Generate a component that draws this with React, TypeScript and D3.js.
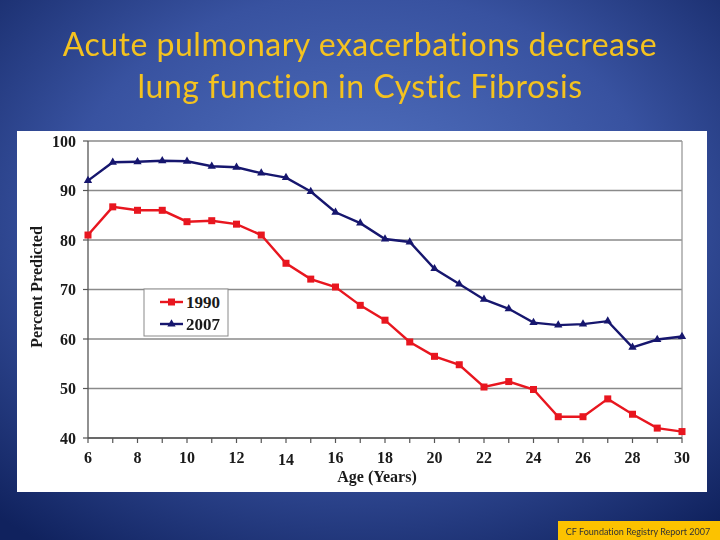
import React from "react";
import * as d3 from "d3";

const ages = [6, 7, 8, 9, 10, 11, 12, 13, 14, 15, 16, 17, 18, 19, 20, 21, 22, 23, 24, 25, 26, 27, 28, 29, 30];
const values1990 = [81, 86.7, 86, 86, 83.7, 83.9, 83.2, 81, 75.3, 72.1, 70.5, 66.8, 63.8, 59.4, 56.5, 54.8, 50.3, 51.4, 49.8, 44.3, 44.3, 47.9, 44.8, 42.0, 41.3];
const values2007 = [92, 95.7, 95.8, 96.0, 95.9, 94.9, 94.7, 93.5, 92.6, 89.8, 85.6, 83.4, 80.2, 79.6, 74.2, 71.1, 68.0, 66.1, 63.3, 62.8, 63.0, 63.6, 58.3, 59.9, 60.5];
const seriesNames = ["1990", "2007"];
const yTicks = [40, 50, 60, 70, 80, 90, 100];
const xTickLabels = [6, 8, 10, 12, 14, 16, 18, 20, 22, 24, 26, 28, 30];
const titleLines = ["Acute pulmonary exacerbations decrease", "lung function in Cystic Fibrosis"];
const footerText = "CF Foundation Registry Report 2007";

const RED = "#e8161f";
const BLUE = "#16166e";
const SERIF = "'Liberation Serif', 'Times New Roman', serif";
const SANS = "Lato, 'Open Sans', sans-serif";

export default function App() {
  const x = d3.scaleLinear().domain([6, 30]).range([88, 682]);
  const y = d3.scaleLinear().domain([40, 100]).range([438, 141]);
  const line = d3
    .line<number>()
    .x((_, i) => x(ages[i]))
    .y((d) => y(d));

  const tri = d3.symbol().type(d3.symbolTriangle).size(30)();

  return (
    <svg
      width={720}
      height={540}
      style={{ position: "fixed", left: 0, top: 0, display: "block" }}
    >
      <defs>
        <radialGradient id="bg" cx="50%" cy="40%" r="75%">
          <stop offset="0%" stopColor="#5474c2" />
          <stop offset="55%" stopColor="#3852a0" />
          <stop offset="100%" stopColor="#10225e" />
        </radialGradient>
      </defs>
      <rect x={0} y={0} width={720} height={540} fill="url(#bg)" />

      {/* Title */}
      {titleLines.map((t, i) => (
        <text
          key={t}
          x={360}
          y={56 + i * 42}
          textAnchor="middle"
          fill="#f4c21f"
          fontFamily={SANS}
          fontSize={32}
          letterSpacing={0.5}
          style={{ fontVariantLigatures: "none", fontFeatureSettings: "'liga' 0, 'clig' 0" }}
        >
          {t}
        </text>
      ))}

      {/* White panel */}
      <rect x={17} y={131} width={690} height={361} fill="#ffffff" />

      {/* Gridlines */}
      {yTicks.map((t) => (
        <line
          key={"g" + t}
          x1={x(6)}
          x2={x(30)}
          y1={y(t)}
          y2={y(t)}
          stroke="#8a8a8a"
          strokeWidth={1.3}
        />
      ))}
      <line x1={x(30)} x2={x(30)} y1={y(100)} y2={y(40)} stroke="#9a9a9a" strokeWidth={1.3} />

      {/* Axes */}
      <line x1={x(6)} x2={x(6)} y1={y(100)} y2={y(40)} stroke="#555" strokeWidth={1.3} />
      <line x1={x(6)} x2={x(30)} y1={y(40)} y2={y(40)} stroke="#555" strokeWidth={1.3} />
      {yTicks.map((t) => (
        <line key={"yt" + t} x1={x(6) - 5} x2={x(6)} y1={y(t)} y2={y(t)} stroke="#555" strokeWidth={1.2} />
      ))}
      {ages.map((a) => (
        <line key={"xt" + a} x1={x(a)} x2={x(a)} y1={y(40)} y2={y(40) + 5} stroke="#555" strokeWidth={1.2} />
      ))}

      {/* Tick labels */}
      {yTicks.map((t) => (
        <text
          key={"yl" + t}
          x={76}
          y={y(t) + 5.5}
          textAnchor="end"
          fontFamily={SERIF}
          fontWeight="bold"
          fontSize={16}
          fill="#1a1a1a"
        >
          {t}
        </text>
      ))}
      {xTickLabels.map((t) => (
        <text
          key={"xl" + t}
          x={x(t)}
          y={463 + (t === 14 ? 2 : 0)}
          textAnchor="middle"
          fontFamily={SERIF}
          fontWeight="bold"
          fontSize={16}
          fill="#1a1a1a"
        >
          {t}
        </text>
      ))}

      {/* Axis titles */}
      <text
        x={377}
        y={482}
        textAnchor="middle"
        fontFamily={SERIF}
        fontWeight="bold"
        fontSize={16}
        fill="#1a1a1a"
      >
        Age (Years)
      </text>
      <text
        transform={`translate(42, 287) rotate(-90)`}
        textAnchor="middle"
        fontFamily={SERIF}
        fontWeight="bold"
        fontSize={16}
        fill="#1a1a1a"
      >
        Percent Predicted
      </text>

      {/* Series lines */}
      <path d={line(values1990) || ""} fill="none" stroke={RED} strokeWidth={2.4} />
      <path d={line(values2007) || ""} fill="none" stroke={BLUE} strokeWidth={2.4} />
      {values1990.map((v, i) => (
        <rect key={"m1" + i} x={x(ages[i]) - 3.5} y={y(v) - 3.5} width={7} height={7} fill={RED} />
      ))}
      {values2007.map((v, i) => (
        <path key={"m2" + i} d={tri || ""} transform={`translate(${x(ages[i])},${y(v)})`} fill={BLUE} />
      ))}

      {/* Legend */}
      <rect x={144} y={289} width={84} height={47} fill="#fff" stroke="#8a8a8a" strokeWidth={1} />
      <line x1={160} x2={183} y1={302} y2={302} stroke={RED} strokeWidth={2.4} />
      <rect x={168} y={298.5} width={7} height={7} fill={RED} />
      <text x={186} y={308} fontFamily={SERIF} fontWeight="bold" fontSize={17} fill="#1a1a1a">
        {seriesNames[0]}
      </text>
      <line x1={160} x2={183} y1={324} y2={324} stroke={BLUE} strokeWidth={2.4} />
      <path d={tri || ""} transform="translate(171.5,324)" fill={BLUE} />
      <text x={186} y={330} fontFamily={SERIF} fontWeight="bold" fontSize={17} fill="#1a1a1a">
        {seriesNames[1]}
      </text>

      {/* Footer */}
      <rect x={558} y={521} width={162} height={19} fill="#fcc200" />
      <text
        x={638}
        y={534.5}
        textAnchor="middle"
        fontFamily={SANS}
        fontSize={9}
        fill="#333"
        style={{ fontVariantLigatures: "none" }}
      >
        {footerText}
      </text>
    </svg>
  );
}
